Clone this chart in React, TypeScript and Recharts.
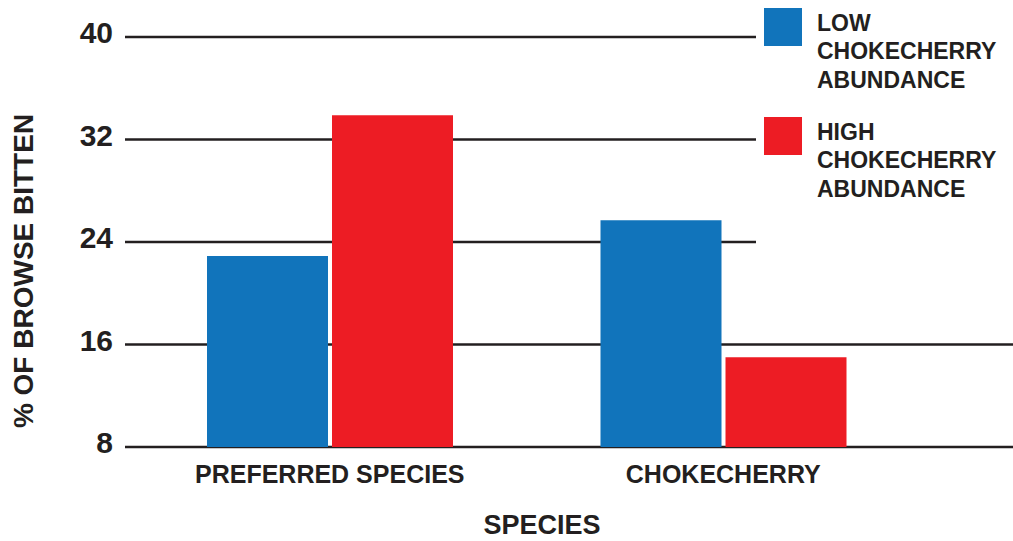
import { BarChart, Bar, XAxis, YAxis, CartesianGrid, Label } from "recharts";

// % of browse bitten, by species group and chokecherry abundance
const categories = ["PREFERRED SPECIES", "CHOKECHERRY"];
const lowAbundance = [22.9, 25.7];
const highAbundance = [33.9, 15.0];
const yTicks = [8, 16, 24, 32, 40];

const LOW_COLOR = "#1174bb";
const HIGH_COLOR = "#ed1c24";
const INK = "#231f20";
const FONT = "'Liberation Sans', Arial, Helvetica, sans-serif";

const series = [
  { key: "low", color: LOW_COLOR, lines: ["LOW", "CHOKECHERRY", "ABUNDANCE"] },
  { key: "high", color: HIGH_COLOR, lines: ["HIGH", "CHOKECHERRY", "ABUNDANCE"] },
];

const data = categories.map((species, i) => ({
  species,
  low: lowAbundance[i],
  high: highAbundance[i],
}));

const YTick = ({ y, payload }: any) => (
  <text x={113} y={y + 6} textAnchor="end" fontFamily={FONT} fontWeight={700} fontSize={30} fill={INK}>
    {payload.value}
  </text>
);

const XTick = ({ x, payload }: any) => (
  <text x={x} y={483} textAnchor="middle" fontFamily={FONT} fontWeight={700} fontSize={25} fill={INK}>
    {payload.value}
  </text>
);

function LegendBox() {
  return (
    <div style={{ position: "absolute", left: 756, top: 0, width: 257, height: 250, background: "#fff" }}>
      <svg width={257} height={250}>
        {series.map((s, i) => {
          const top = i === 0 ? 8 : 117;
          return (
            <g key={s.key}>
              <rect x={8} y={top} width={38} height={38} fill={s.color} />
              {s.lines.map((line, j) => (
                <text
                  key={j}
                  x={61}
                  y={top + 23 + j * 28.3}
                  fontFamily={FONT}
                  fontWeight={700}
                  fontSize={23}
                  fill={INK}
                >
                  {line}
                </text>
              ))}
            </g>
          );
        })}
      </svg>
    </div>
  );
}

export default function App() {
  return (
    <div style={{ position: "absolute", left: 0, top: 0, width: 1013, height: 541, background: "#fff" }}>
      <BarChart
        width={1013}
        height={541}
        data={data}
        margin={{ top: 37, right: 0, bottom: 0, left: 0 }}
        barSize={121}
        barGap={4}
      >
        <CartesianGrid vertical={false} stroke={INK} strokeWidth={2.5} />
        <XAxis
          dataKey="species"
          height={94}
          axisLine={false}
          tickLine={false}
          padding={{ left: 8, right: 93 }}
          tick={<XTick />}
          interval={0}
        >
          <Label
            content={() => (
              <text x={542} y={534} textAnchor="middle" fontFamily={FONT} fontWeight={700} fontSize={27} fill={INK}>
                SPECIES
              </text>
            )}
          />
        </XAxis>
        <YAxis
          width={125}
          domain={[8, 40]}
          ticks={yTicks}
          axisLine={false}
          tickLine={false}
          tick={<YTick />}
          interval={0}
        >
          <Label
            content={() => (
              <text
                x={33}
                y={271}
                transform="rotate(-90 33 271)"
                textAnchor="middle"
                fontFamily={FONT}
                fontWeight={700}
                fontSize={28}
                fill={INK}
              >
                % OF BROWSE BITTEN
              </text>
            )}
          />
        </YAxis>
        {series.map((s) => (
          <Bar key={s.key} dataKey={s.key} fill={s.color} isAnimationActive={false} />
        ))}
      </BarChart>
      <LegendBox />
    </div>
  );
}
